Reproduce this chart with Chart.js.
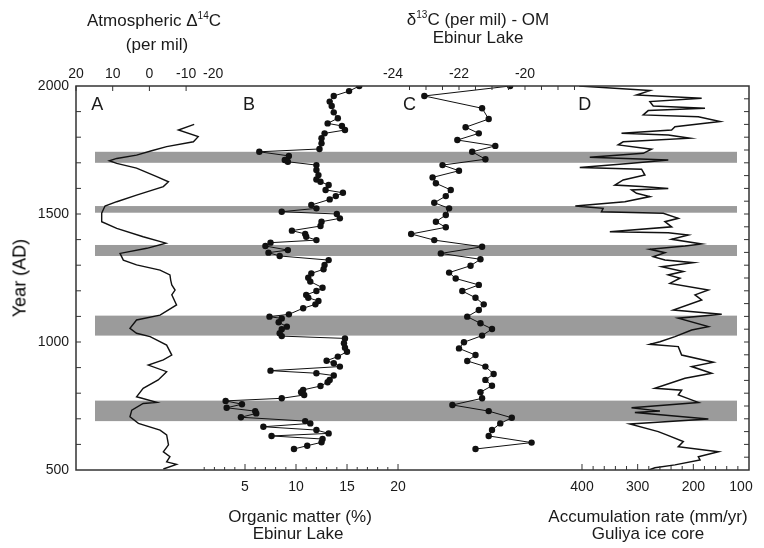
<!DOCTYPE html>
<html><head><meta charset="utf-8">
<script src="https://cdn.jsdelivr.net/npm/chart.js@4"></script>
<style>
html,body{margin:0;padding:0;background:#fff;}
#wrap{position:relative;width:764px;height:548px;font-family:"Liberation Sans",Arial,sans-serif;color:#1a1a1a;overflow:hidden;}
canvas{position:absolute;left:0;top:0;}
.t{position:absolute;font-size:17px;line-height:18px;text-align:center;white-space:nowrap;transform:translateX(-50%);}
.t sup{font-size:10px;vertical-align:7px;line-height:0;}
.yl{position:absolute;left:20px;top:278px;font-size:18px;color:#000;white-space:nowrap;transform:translate(-50%,-50%) rotate(-90deg);}
</style></head><body>
<div id="wrap">
<canvas id="c" width="764" height="548"></canvas>
<div class="t" style="left:154px;top:12px">Atmospheric &Delta;<sup>14</sup>C</div>
<div class="t" style="left:157px;top:36px">(per mil)</div>
<div class="t" style="left:478px;top:11px">&delta;<sup>13</sup>C (per mil) - OM</div>
<div class="t" style="left:478px;top:29px">Ebinur Lake</div>
<div class="t" style="left:300px;top:508px">Organic matter (%)</div>
<div class="t" style="left:298px;top:525px">Ebinur Lake</div>
<div class="t" style="left:648px;top:508px">Accumulation rate (mm/yr)</div>
<div class="t" style="left:648px;top:525px">Guliya ice core</div>
<div class="yl">Year (AD)</div>
</div>
<script>
// ---- Panel A: atmospheric delta14C ----
const aYears = [1850,1828,1802,1782,1763,1747,1730,1717,1708,1698,1679,1646,1626,1607,1574,1548,1531,1503,1470,1444,1411,1386,1366,1346,1320,1301,1281,1262,1242,1223,1203,1184,1145,1105,1086,1053,1034,1021,988,949,930,910,884,852,819,786,764,760,734,708,682,656,637,598,571,552,532,522,504];
const aValues = [-12.2,-7.9,-13.3,-12,-4.7,-0.6,3.5,8.9,10.9,8.9,3.5,-2,-5.2,-3.8,3.5,8.9,12.1,13,13,8.9,1.7,-4.5,0.7,8,7.1,3.5,-2.9,-5.6,-5.8,-6.1,-7,-6.1,-7.4,-2.9,3.5,5.3,3.5,-0.2,-4.7,-6.1,-3.8,0.3,-4.7,-2.4,1.7,3.5,-2,1.7,4.8,5.3,3,-2.9,-4.7,-5.2,-3.8,-5.6,-4.7,-7.4,-3.8];
// ---- Panel B: organic matter (%) ----
const omYears = [2000,1980,1961,1939,1922,1897,1874,1854,1844,1828,1815,1796,1776,1754,1743,1727,1711,1704,1691,1672,1652,1635,1626,1613,1594,1583,1570,1557,1535,1522,1509,1500,1483,1470,1453,1435,1422,1411,1398,1388,1375,1359,1349,1336,1320,1301,1284,1268,1251,1236,1212,1199,1184,1173,1160,1147,1132,1108,1099,1092,1077,1060,1050,1034,1023,1014,995,978,962,943,927,917,904,888,878,869,852,843,828,813,804,793,780,770,757,743,730,721,706,691,682,669,656,643,633,621,608,595,582];
const omValues = [16.2,15.2,13.7,13.3,13.5,13.7,14.1,13.1,14.5,14.8,12.8,12.5,12.5,12.3,6.4,9.3,8.9,9.2,12,12,12.2,12,12.4,13.2,12.9,14.6,13.9,13.3,11.5,12,8.6,14,14.3,12.5,12.4,9.6,10.9,11,12,7.5,7,9.2,7.3,8.4,13.2,12.8,12.7,11.5,11.2,11.4,12.6,12,11,11.2,12.2,11.9,10.7,9.3,7.4,8.6,8.3,9.1,8.6,8.4,8.6,14.8,14.7,14.8,15,14.1,13,13.7,14.3,7.5,12,13.7,13.3,13.1,12.4,10.7,10.5,10.8,8.6,3.1,4.7,3.2,6,6.1,4.6,10.9,11.4,6.8,12,13.2,7.6,12.6,12.5,11.1,9.8];
// ---- Panel C: delta13C of organic matter (per mil) ----
const c13Years = [2000,1961,1913,1871,1839,1815,1789,1766,1743,1714,1691,1669,1643,1620,1594,1570,1544,1522,1496,1470,1448,1422,1398,1372,1346,1323,1298,1271,1248,1223,1199,1173,1147,1125,1099,1073,1051,1025,999,975,949,926,904,875,852,829,804,780,754,730,704,682,656,633,607,582];
const c13Values = [-20.45,-23.05,-21.3,-21.1,-21.8,-21.4,-22.05,-20.9,-21.6,-21.2,-22.5,-22,-22.8,-22.7,-22.25,-22.4,-22.75,-22.3,-22.4,-22.7,-22.4,-23.45,-22.75,-21.3,-22.55,-21.35,-21.65,-22.3,-22.1,-21.4,-21.9,-21.5,-21.25,-21.4,-21.75,-21.35,-21,-21.3,-21.85,-22,-21.5,-21.75,-21.2,-20.95,-21.2,-21,-21.35,-21.3,-22.2,-21.1,-20.4,-20.75,-21,-21.1,-19.8,-21.5];
// ---- Panel D: accumulation rate (mm/yr), Guliya ice core ----
const accYears = [2000,1982,1965,1952,1939,1922,1913,1904,1887,1880,1861,1841,1828,1815,1809,1796,1782,1770,1753,1737,1722,1711,1698,1682,1675,1652,1633,1613,1607,1600,1594,1581,1568,1548,1531,1522,1509,1503,1483,1470,1450,1431,1427,1418,1401,1383,1375,1362,1349,1333,1320,1310,1294,1275,1262,1249,1229,1203,1184,1164,1125,1108,1093,1060,1047,1021,1001,991,982,949,921,904,878,858,819,812,793,764,743,730,725,699,680,650,637,611,591,571,552,539,520,509,500];
const accValues = [405,278,302,185,278,272,179,281,290,191,152,233,239,329,245,206,326,335,275,290,386,245,311,404,293,287,326,341,293,245,311,302,278,323,412,362,365,254,227,251,239,350,245,209,239,185,215,278,251,272,251,200,257,218,245,224,242,173,197,185,236,149,227,173,203,233,260,278,227,221,164,203,167,215,269,221,227,191,311,260,305,173,314,263,248,218,227,155,191,188,233,269,280];
// ---- grey bands (years AD) ----
const bandStarts = [1700,1505,1336,1025,691];
const bandEnds   = [1743,1531,1379,1103,771];
// ---- tick labels ----
const yTickValues = [500,1000,1500,2000];
const yTickLabels = ['500','1000','1500','2000'];
const aTickValues = [20,10,0,-10];
const aTickLabels = ['20','10','0','-10'];
const cTickValues = [-29.45,-24,-22,-20];
const cTickLabels = ['-20','-24','-22','-20'];
const omTickValues = [5,10,15,20];
const omTickLabels = ['5','10','15','20'];
const accTickValues = [400,300,200,100];
const accTickLabels = ['400','300','200','100'];
const panelLetters = ['A','B','C','D'];

const pts = (ys, xs) => ys.map((y, i) => ({x: xs[i], y: y}));

const deco = {
  id: 'deco',
  beforeDatasetsDraw(chart) {
    const {ctx, chartArea: ca, scales} = chart;
    ctx.save();
    ctx.fillStyle = '#9b9b9b';
    bandStarts.forEach((s, i) => {
      const y1 = scales.y.getPixelForValue(bandEnds[i]);
      const y2 = scales.y.getPixelForValue(s);
      ctx.fillRect(ca.left + 19, y1, (ca.right - 12) - (ca.left + 19), y2 - y1);
    });
    ctx.restore();
  },
  afterDatasetsDraw(chart) {
    const {ctx, chartArea: ca, scales} = chart;
    const y = scales.y, xA = scales.xA, xB = scales.xB, xC = scales.xC, xD = scales.xD;
    ctx.save();
    ctx.strokeStyle = '#333';
    ctx.lineWidth = 1.5;
    ctx.strokeRect(ca.left, ca.top, ca.right - ca.left, ca.bottom - ca.top);
    ctx.lineWidth = 1;
    ctx.beginPath();
    for (let v = 600; v < 2000; v += 100) { const p = y.getPixelForValue(v); ctx.moveTo(ca.left, p); ctx.lineTo(ca.left + 5, p); }
    for (let v = 550; v < 2000; v += 50) { const p = y.getPixelForValue(v); ctx.moveTo(ca.right, p); ctx.lineTo(ca.right - 5, p); }
    aTickValues.forEach(v => { const p = xA.getPixelForValue(v); ctx.moveTo(p, ca.top); ctx.lineTo(p, ca.top + 5); });
    for (let v = -23.5; v <= -18.5; v += 0.5) { const p = xC.getPixelForValue(v); ctx.moveTo(p, ca.top); ctx.lineTo(p, ca.top + 4); }
    for (let v = 1; v <= 20; v += 1) { const p = xB.getPixelForValue(v); const L = v % 5 === 0 ? 6 : 3; ctx.moveTo(p, ca.bottom); ctx.lineTo(p, ca.bottom - L); }
    for (let v = 400; v >= 120; v -= 20) { const p = xD.getPixelForValue(v); const L = v % 100 === 0 ? 6 : 4; ctx.moveTo(p, ca.bottom); ctx.lineTo(p, ca.bottom - L); }
    ctx.stroke();

    ctx.fillStyle = '#1a1a1a';
    ctx.font = '14px "Liberation Sans", Arial, sans-serif';
    ctx.textAlign = 'right'; ctx.textBaseline = 'middle';
    yTickValues.forEach((v, i) => ctx.fillText(yTickLabels[i], ca.left - 7, y.getPixelForValue(v)));
    ctx.textAlign = 'center';
    aTickValues.forEach((v, i) => ctx.fillText(aTickLabels[i], xA.getPixelForValue(v), ca.top - 12));
    cTickValues.forEach((v, i) => ctx.fillText(cTickLabels[i], xC.getPixelForValue(v), ca.top - 12));
    omTickValues.forEach((v, i) => ctx.fillText(omTickLabels[i], xB.getPixelForValue(v), ca.bottom + 17));
    accTickValues.forEach((v, i) => {
      let p = xD.getPixelForValue(v);
      if (p > ca.right - 8) p = ca.right - 8;
      ctx.fillText(accTickLabels[i], p, ca.bottom + 17);
    });
    ctx.font = '18px "Liberation Sans", Arial, sans-serif';
    const lx = [xA.getPixelForValue(14.2), xB.getPixelForValue(5.4), xC.getPixelForValue(-23.5), xD.getPixelForValue(395)];
    panelLetters.forEach((t, i) => ctx.fillText(t, lx[i], ca.top + 19));
    ctx.restore();
  }
};

new Chart(document.getElementById('c'), {
  type: 'scatter',
  data: {
    datasets: [
      {data: pts(aYears, aValues), xAxisID: 'xA', yAxisID: 'y', showLine: true, borderColor: '#111', borderWidth: 1.4, pointRadius: 0, fill: false},
      {data: pts(omYears, omValues), xAxisID: 'xB', yAxisID: 'y', showLine: true, borderColor: '#111', borderWidth: 1, pointRadius: 3.2, pointBackgroundColor: '#111', pointBorderColor: '#111', pointBorderWidth: 0, fill: false},
      {data: pts(c13Years, c13Values), xAxisID: 'xC', yAxisID: 'y', showLine: true, borderColor: '#111', borderWidth: 1, pointRadius: 3.2, pointBackgroundColor: '#111', pointBorderColor: '#111', pointBorderWidth: 0, fill: false},
      {data: pts(accYears, accValues), xAxisID: 'xD', yAxisID: 'y', showLine: true, borderColor: '#111', borderWidth: 1.5, pointRadius: 0, fill: false}
    ]
  },
  options: {
    responsive: false,
    devicePixelRatio: 1,
    animation: false,
    events: [],
    layout: {padding: {left: 76, top: 86, right: 15, bottom: 78}},
    plugins: {legend: {display: false}, tooltip: {enabled: false}},
    scales: {
      y: {type: 'linear', min: 500, max: 2000, display: false},
      xA: {type: 'linear', axis: 'x', min: -163.38, max: 20, reverse: true, display: false},
      xB: {type: 'linear', axis: 'x', min: -11.57, max: 54.41, display: false},
      xC: {type: 'linear', axis: 'x', min: -33.606, max: -13.212, display: false},
      xD: {type: 'linear', axis: 'x', min: 100, max: 1308.9, reverse: true, display: false}
    }
  },
  plugins: [deco]
});
</script>
</body></html>
